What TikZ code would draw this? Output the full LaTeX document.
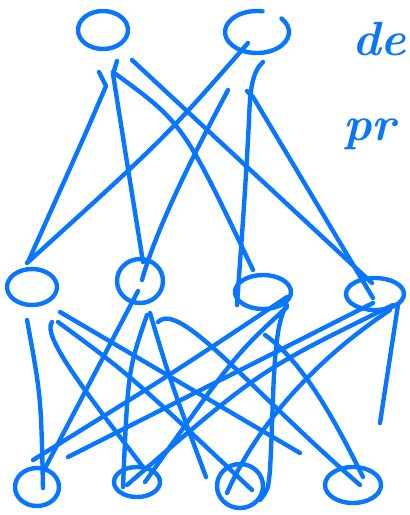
\documentclass[tikz,border=0pt]{standalone}
\usetikzlibrary{calc,shapes.geometric}
\definecolor{sk}{RGB}{8,118,255}
\begin{document}
\begin{tikzpicture}[x=1pt,y=-1pt,
  pen/.style={draw=sk,line width=4.4pt,line cap=round,line join=round},
  blob/.style={pen,ellipse,inner sep=0pt},
  hand/.style={text=sk,font=\fontsize{48}{48}\selectfont\bfseries\itshape,inner sep=0pt,anchor=base west}]
\useasboundingbox (0,0) rectangle (410,515);
% top layer
\node[blob,minimum width=50pt,minimum height=38pt] (T1) at (103,30) {};
\node[ellipse,minimum width=64pt,minimum height=42pt,inner sep=0pt] (T2) at (257,32) {};
\draw[pen] ($(T2)+(-40:32 and 21)$) arc[start angle=-40,end angle=280,x radius=32,y radius=21];
% middle layer
\node[blob,minimum width=50pt,minimum height=36pt] (M1) at (32,287) {};
\node[blob,minimum width=46pt,minimum height=44pt] (M2) at (140,281) {};
\node[blob,minimum width=56pt,minimum height=34pt] (M3) at (263,292) {};
\node[blob,minimum width=58pt,minimum height=32pt] (M4) at (375,294) {};
% bottom layer
\node[blob,minimum width=44pt,minimum height=38pt] (B1) at (37,487) {};
\node[blob,minimum width=46pt,minimum height=30pt] (B2) at (137,482) {};
\node[blob,minimum width=46pt,minimum height=44pt] (B3) at (240,486) {};
\node[blob,minimum width=56pt,minimum height=36pt] (B4) at (353,485) {};
% top -> middle
\draw[pen] ($(T1)+(-4,42)$) -- ($(T1)+(3,56)$) .. controls (85,135) .. ($(M1)+(-4,-25)$);
\draw[pen] ($(T1)+(14,31)$) -- ($(T1)+(10,44)$) .. controls (125,150) .. ($(M2)+(3,-19)$);
\draw[pen] ($(T1)+(10,42)$) .. controls (183,123) .. ($(M3)+(-10,-22)$);
\draw[pen] ($(T1)+(29,30)$) -- ($(M4)+(-3,-11)$);
\draw[pen] ($(T2)+(-9,11)$) .. controls (165,138) .. ($(M1)+(-5,-24)$);
\draw[pen] ($(T2)+(-29,58)$) .. controls (215,115) and (160,215) .. ($(M2)+(2,-1)$);
\draw[pen] ($(T2)+(6,30)$) .. controls (252,72) and (250,90) .. (249,120) .. controls (245,200) and (240,260) .. ($(M3)+(-26,13)$);
\draw[pen] ($(T2)+(-10,59)$) -- ($(T2)+(-4,65)$) -- ($(M4)+(-2,4)$);
% middle -> bottom
\draw[pen] ($(M1)+(-5,33)$) .. controls (41,396) .. ($(B1)+(6,1)$);
\draw[pen] ($(M1)+(20,35)$) .. controls (42,335) and (80,385) .. ($(B2)+(6,-15)$);
\draw[pen] ($(M1)+(26,35)$) .. controls (130,375) .. ($(B3)+(12,4)$);
\draw[pen] ($(M1)+(28,25)$) -- ($(B4)+(-53,-32)$);
\draw[pen] ($(M2)+(-2,10)$) -- ($(B1)+(6,-15)$);
\draw[pen] ($(M2)+(7,34)$) .. controls (128,370) .. ($(B2)+(-14,5)$);
\draw[pen] ($(M2)+(10,32)$) .. controls (170,380) .. ($(B3)+(-34,-9)$);
\draw[pen] ($(M2)+(18,41)$) .. controls (180,300) and (250,390) .. ($(B4)+(7,0)$);
\draw[pen] ($(M3)+(24,5)$) .. controls (170,375) .. ($(B1)+(-4,-27)$);
\draw[pen] ($(M3)+(24,15)$) .. controls (235,355) .. ($(B2)+(8,0)$);
\draw[pen] ($(M3)+(24,13)$) .. controls (272,325) and (274,400) .. (270,470) .. controls (268,490) .. ($(B3)+(20,14)$);
\draw[pen] ($(M3)+(2,43)$) .. controls (300,360) and (330,410) .. ($(B4)+(10,-8)$);
\draw[pen] ($(M4)+(-2,9)$) -- ($(B1)+(31,-30)$);
\draw[pen] ($(M4)+(18,11)$) .. controls (260,370) .. ($(B2)+(-10,3)$);
\draw[pen] ($(M4)+(15,16)$) .. controls (300,370) and (250,440) .. ($(B3)+(-13,7)$);
\draw[pen] ($(M4)+(23,11)$) -- ($(B4)+(27,-62)$);
% handwriting at the right edge
\node[hand] (w1) at (352,55) {de};
\node[hand] (w2) at (343,140) {pr};
\end{tikzpicture}
\end{document}
